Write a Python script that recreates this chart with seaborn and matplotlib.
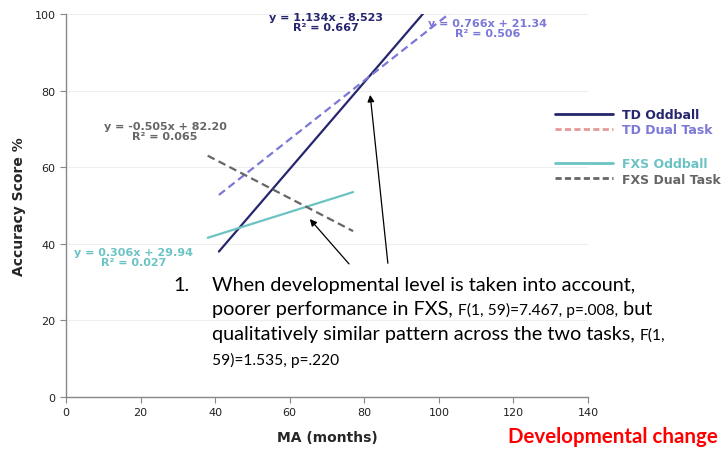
import matplotlib
matplotlib.use("Agg")
import matplotlib.pyplot as plt
from matplotlib.lines import Line2D
import numpy as np
import pandas as pd
import seaborn as sns

# Linear trendlines: slope, intercept, R^2 and the MA range each one spans
series = ["TD Oddball", "TD Dual Task", "FXS Oddball", "FXS Dual Task"]
slopes = [1.134, 0.766, 0.306, -0.505]
intercepts = [-8.523, 21.34, 29.94, 82.20]
r_squared = [0.667, 0.506, 0.027, 0.065]
eq_labels = ["y = 1.134x - 8.523", "y = 0.766x + 21.34",
             "y = 0.306x + 29.94", "y = -0.505x + 82.20"]
x_start = [41.0, 41.0, 38.0, 38.0]
x_end = [100.0, 105.0, 77.0, 77.0]

x_ticks = [0, 20, 40, 60, 80, 100, 120, 140]
y_ticks = [0, 20, 40, 60, 80, 100]

line_colors = ["#26266e", "#7b78d8", "#6cc3c4", "#666666"]
legend_line_colors = ["#26266e", "#e39a97", "#6cc3c4", "#666666"]
dashed = [False, True, False, True]

rows = []
for name, m, b, x0, x1 in zip(series, slopes, intercepts, x_start, x_end):
    for x in (x0, x1):
        rows.append({"series": name, "MA": x, "score": m * x + b})
df = pd.DataFrame(rows)

sns.set_style("white")
plt.rcParams["font.family"] = ["DejaVu Sans"]

W, H = 727, 452
fig = plt.figure(figsize=(W / 100, H / 100), dpi=100)
ax = fig.add_axes([66 / W, 1 - 398 / H, (588 - 66) / W, (398 - 15) / H])

for name, col, dsh in zip(series, line_colors, dashed):
    sub = df[df["series"] == name]
    sns.lineplot(data=sub, x="MA", y="score", ax=ax, color=col,
                 linewidth=1.6, linestyle=(0, (3.5, 2)) if dsh else "-",
                 legend=False)

ax.set_xlim(0, 140)
ax.set_ylim(0, 100)
ax.set_xticks(x_ticks)
ax.set_yticks(y_ticks)
ax.tick_params(axis="both", labelsize=8, color="#888888", length=4,
               direction="out", bottom=True, left=True, labelcolor="#222222")
ax.grid(axis="y", color="#eeeeee", linewidth=0.8)
ax.set_axisbelow(True)
for s in ("top", "right"):
    ax.spines[s].set_visible(False)
for s in ("left", "bottom"):
    ax.spines[s].set_color("#888888")
    ax.spines[s].set_linewidth(1.0)

ax.set_xlabel("MA (months)", fontsize=10, fontweight="bold", labelpad=9)
ax.set_ylabel("Accuracy Score %", fontsize=10, fontweight="bold", labelpad=6)

# Trendline equations
eq_pos = [(326, 23), (488, 29), (134, 258), (165, 132)]
for lab, r2, col, (px, py) in zip(eq_labels, r_squared, line_colors, eq_pos):
    fig.text(px / W, 1 - py / H, f"{lab}\nR\u00b2 = {r2:.3f}", color=col,
             fontsize=8, fontweight="bold", ha="center", va="center",
             linespacing=1.0)

# Legend in two groups
def legend_group(idx, top_y):
    handles = [Line2D([0], [0], color=legend_line_colors[i], linewidth=2,
                      linestyle=(0, (2.2, 1.2)) if dashed[i] else "-")
               for i in idx]
    leg = fig.legend(handles, [series[i] for i in idx],
                     loc="upper left", bbox_to_anchor=(550 / W, 1 - top_y / H),
                     frameon=False, handlelength=4.6, handletextpad=0.75,
                     labelspacing=0.2, borderaxespad=0,
                     prop={"weight": "bold", "size": 9},
                     labelcolor=[line_colors[i] for i in idx])
    return leg

legend_group([0, 1], 104)
legend_group([2, 3], 153)

# Arrows pointing at the lines
ax.annotate("", xy=(64.9, 47.0), xytext=(76.4, 34.2),
            arrowprops=dict(arrowstyle="-|>", color="black", lw=0.9,
                            mutation_scale=10))
ax.annotate("", xy=(81.5, 79.6), xytext=(86.4, 34.2),
            arrowprops=dict(arrowstyle="-|>", color="black", lw=0.9,
                            mutation_scale=10))

# Statistical note
renderer = fig.canvas.get_renderer()
fam = ["Lato", "DejaVu Sans"]

def fitted_size(text, target_px):
    probe = fig.text(0, 0, text, family=fam, fontsize=12)
    w = probe.get_window_extent(renderer=renderer).width
    probe.remove()
    return 12 * target_px / w

big = dict(family=fam, fontsize=fitted_size("qualitatively similar pattern across the", 330),
           color="black")
small = dict(family=fam, fontsize=fitted_size("59)=1.535, p=.220", 126),
             color="black")

def put_line(parts, x0, base_y):
    x = x0
    for txt, style in parts:
        t = fig.text(x / W, 1 - base_y / H, txt, va="baseline", ha="left", **style)
        x = x + t.get_window_extent(renderer=renderer).width

fig.text(173 / W, 1 - 291 / H, "1.", va="baseline", ha="left", **big)
put_line([("When developmental level is taken into account,", big)], 212, 291)
put_line([("poorer performance in FXS, ", big),
          ("F(1, 59)=7.467, p=.008,", small), (" but", big)], 212, 315)
put_line([("qualitatively similar pattern across the two tasks, ", big),
          ("F(1,", small)], 212, 340)
put_line([("59)=1.535, p=.220", small)], 212, 365)

fig.text(718 / W, 1 - 437 / H, "Developmental change", color="#ff0000",
         fontsize=14.8, fontweight="bold", ha="right", va="center",
         family=["Lato", "DejaVu Sans"])

fig.savefig("out.png", dpi=100)
